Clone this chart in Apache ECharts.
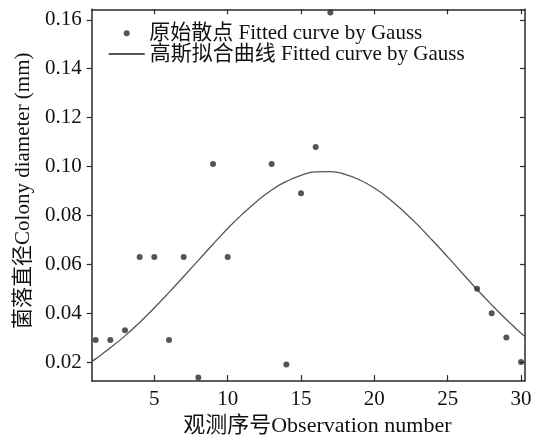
<!DOCTYPE html>
<html>
<head>
<meta charset="utf-8">
<script src="https://cdn.jsdelivr.net/npm/echarts@6/dist/echarts.min.js"></script>
<style>
html,body{margin:0;padding:0;background:#fff;}
#c{width:544px;height:442px;}
</style>
</head>
<body>
<div id="c"></div>
<script>
// Observed scatter points
const obsX = [1, 2, 3, 4, 5, 6, 7, 8, 9, 10, 13, 14, 15, 16, 17, 27, 28, 29, 30];
const obsY = [0.029, 0.029, 0.033, 0.063, 0.063, 0.029, 0.063, 0.0137, 0.101, 0.063, 0.101, 0.019, 0.089, 0.108, 0.163, 0.050, 0.040, 0.030, 0.020];

// Fitted Gauss curve
const curveX = [0.73, 1, 2, 3, 4, 5, 6, 7, 8, 9, 10, 11, 12, 13, 14, 15, 16, 17, 18, 19, 20, 21, 22, 23, 24, 25, 26, 27, 28, 29, 30, 30.27];
const curveY = [0.0202, 0.0213, 0.0258, 0.0307, 0.0362, 0.0422, 0.0485, 0.0550, 0.0616, 0.0682, 0.0746, 0.0805, 0.0858, 0.0904, 0.0939, 0.0964, 0.0978, 0.0979, 0.0968, 0.0945, 0.0912, 0.0868, 0.0816, 0.0758, 0.0695, 0.0630, 0.0563, 0.0497, 0.0434, 0.0374, 0.0318, 0.0304];

// Ticks
const xTicks = [5, 10, 15, 20, 25, 30];
const yTicks = [0.02, 0.04, 0.06, 0.08, 0.10, 0.12, 0.14, 0.16];

const xRange = [0.73, 30.27];
const yRange = [0.0122, 0.1643];

const seriesNames = ['原始散点 Fitted curve by Gauss', '高斯拟合曲线 Fitted curve by Gauss'];
const xName = '观测序号Observation number';
const yName = '菌落直径Colony diameter (mm)';

const FONT = '"Liberation Serif", "Noto Sans CJK SC", serif';
const AX = '#2a2a2a';

const chart = echarts.init(document.getElementById('c'), null, {renderer: 'canvas'});

const baseAxisLine = {show: true, lineStyle: {color: AX, width: 1.5}};

chart.setOption({
  animation: false,
  backgroundColor: '#ffffff',
  textStyle: {fontFamily: FONT},
  grid: {left: 91.7, right: 19, top: 9.3, bottom: 54.3, containLabel: false},
  legend: [
    {
      data: [{name: seriesNames[0], icon: 'circle'}],
      orient: 'vertical', left: 123.7, top: 22.3, padding: 0,
      itemWidth: 6, itemHeight: 6,
      textStyle: {fontFamily: FONT, fontSize: 21, color: '#111', lineHeight: 22, padding: [0, 0, 0, 14.6]}
    },
    {
      data: [{name: seriesNames[1], itemStyle: {opacity: 0}}],
      orient: 'vertical', left: 107.7, top: 43, padding: 0,
      itemWidth: 36, itemHeight: 6,
      textStyle: {fontFamily: FONT, fontSize: 21, color: '#111', lineHeight: 22}
    }
  ],
  xAxis: [
    {
      type: 'value', position: 'bottom', min: xRange[0], max: xRange[1],
      name: xName, nameLocation: 'middle', nameGap: 31,
      nameTextStyle: {fontFamily: FONT, fontSize: 22, color: '#111', padding: [0, 0, 0, 18]},
      axisLine: baseAxisLine,
      axisTick: {show: true, inside: true, length: 6, lineStyle: {color: AX, width: 1.2}, customValues: xTicks},
      axisLabel: {show: true, fontFamily: FONT, fontSize: 21, color: '#111', margin: 8, customValues: xTicks},
      splitLine: {show: false}
    },
    {
      type: 'value', position: 'top', min: xRange[0], max: xRange[1],
      axisLine: baseAxisLine,
      axisTick: {show: true, inside: true, length: 5, lineStyle: {color: AX, width: 1.2}, customValues: xTicks},
      axisLabel: {show: false},
      splitLine: {show: false}
    }
  ],
  yAxis: [
    {
      type: 'value', position: 'left', min: yRange[0], max: yRange[1],
      name: yName, nameLocation: 'middle', nameGap: 58, nameRotate: 90,
      nameTextStyle: {fontFamily: FONT, fontSize: 21, color: '#111', padding: [0, 0, 0, 9]},
      axisLine: baseAxisLine,
      axisTick: {show: true, inside: false, length: 5, lineStyle: {color: AX, width: 1.2}, customValues: yTicks},
      axisLabel: {show: true, fontFamily: FONT, fontSize: 21, color: '#111', margin: 10, customValues: yTicks,
        formatter: v => v.toFixed(2)},
      splitLine: {show: false}
    },
    {
      type: 'value', position: 'right', min: yRange[0], max: yRange[1],
      axisLine: baseAxisLine,
      axisTick: {show: true, inside: true, length: 5, lineStyle: {color: AX, width: 1.2}, customValues: yTicks},
      axisLabel: {show: false},
      splitLine: {show: false}
    }
  ],
  series: [
    {
      name: seriesNames[0], type: 'scatter', xAxisIndex: 0, yAxisIndex: 0,
      symbol: 'circle', symbolSize: 6,
      itemStyle: {color: '#2b2b2b'},
      data: obsX.map((x, i) => [x, obsY[i]]),
      z: 3
    },
    {
      name: seriesNames[1], type: 'line', xAxisIndex: 0, yAxisIndex: 0,
      smooth: true, symbol: 'none', showSymbol: false,
      lineStyle: {color: '#555555', width: 1.3},
      itemStyle: {color: '#555555'},
      data: curveX.map((x, i) => [x, curveY[i]]),
      z: 2
    }
  ]
});
</script>
</body>
</html>
